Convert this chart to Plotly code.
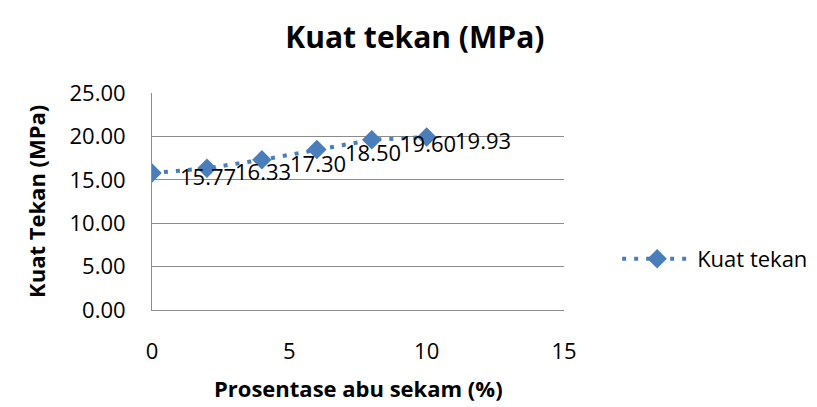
import plotly.graph_objects as go

x_abu = [0, 2, 4, 6, 8, 10]
kuat_tekan = [15.77, 16.33, 17.30, 18.50, 19.60, 19.93]
series_name = "Kuat tekan"
chart_title = "Kuat tekan (MPa)"
x_title = "Prosentase abu sekam (%)"
y_title = "Kuat Tekan (MPa)"

BLUE = "#4A7EBB"
GRID = "#8C8C8C"
FONT = "Open Sans"

fig = go.Figure()
fig.add_trace(go.Scatter(
    x=x_abu, y=kuat_tekan, name=series_name, mode="lines+markers",
    line=dict(color=BLUE, width=4, dash="4px,8px"),
    marker=dict(symbol="diamond", size=15, color=BLUE),
))

annotations = []
for xv, yv in zip(x_abu, kuat_tekan):
    annotations.append(dict(
        x=xv, y=yv, xref="x", yref="y", text=f"{yv:.2f}", showarrow=False,
        xanchor="left", yanchor="middle", xshift=26, yshift=-3,
        font=dict(family=FONT, size=22, color="#000000"),
    ))
annotations.append(dict(
    x=0.5, y=(302 - 397) / 217, xref="paper", yref="paper", text=f"<b>{x_title}</b>",
    showarrow=False, xanchor="center", yanchor="bottom",
    font=dict(family=FONT, size=22, color="#000000"),
))
annotations.append(dict(
    x=(24 - 144) / 424, y=0.5, xref="paper", yref="paper", text=f"<b>{y_title}</b>",
    showarrow=False, xanchor="center", yanchor="middle", textangle=-90,
    font=dict(family=FONT, size=22, color="#000000"),
))

fig.update_layout(
    width=817, height=407,
    margin=dict(l=144, r=249, t=85, b=105),
    paper_bgcolor="white", plot_bgcolor="white",
    title=dict(text=f"<b>{chart_title}</b>", x=0.498, xref="container", xanchor="center",
               y=1 - 29 / 407, yref="container", yanchor="middle",
               font=dict(family=FONT, size=30, color="#000000")),
    font=dict(family=FONT, size=22, color="#000000"),
    showlegend=True,
    legend=dict(x=1.129, y=0.235, xanchor="left", yanchor="middle",
                font=dict(family=FONT, size=22, color="#000000"),
                bgcolor="rgba(0,0,0,0)", itemwidth=70),
    annotations=annotations,
)
fig.update_xaxes(range=[0, 15], dtick=5, tick0=0, showgrid=False, zeroline=False,
                 showline=True, linecolor=GRID, linewidth=1, ticks="",
                 ticklabelstandoff=22, tickfont=dict(family=FONT, size=22, color="#000000"))
fig.update_yaxes(range=[0, 25], dtick=5, tick0=0, tickformat=".2f", showgrid=True,
                 gridcolor=GRID, gridwidth=1, zeroline=False, showline=True,
                 linecolor=GRID, linewidth=1, ticks="", ticklabelstandoff=21,
                 tickfont=dict(family=FONT, size=22, color="#000000"))

fig.write_html("out.html")
